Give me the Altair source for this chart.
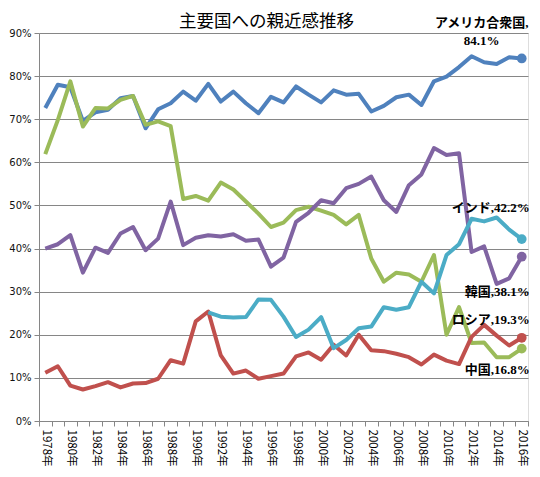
import altair as alt
import pandas as pd

years = list(range(1978, 2017))

usa = [72.6, 78.0, 77.4, 69.6, 71.6, 72.2, 74.9, 75.4, 67.9, 72.3,
       73.7, 76.4, 74.3, 78.2, 74.1, 76.4, 73.7, 71.4, 75.2, 73.9,
       77.6, 75.7, 73.9, 76.7, 75.7, 75.9, 71.8, 73.1, 75.1, 75.7,
       73.3, 78.8, 79.9, 82.1, 84.6, 83.2, 82.8, 84.4, 84.1]
china = [61.9, 69.8, 78.8, 68.3, 72.6, 72.5, 74.5, 75.4, 68.7, 69.5,
         68.4, 51.5, 52.2, 51.1, 55.3, 53.7, 50.9, 48.1, 45.0, 46.0,
         48.9, 49.7, 48.8, 47.8, 45.6, 47.8, 37.7, 32.3, 34.4, 34.0,
         32.3, 38.5, 20.0, 26.4, 18.1, 18.2, 14.8, 14.8, 16.8]
korea = [40.0, 41.0, 43.1, 34.4, 40.2, 39.0, 43.5, 45.0, 39.6, 42.3,
         50.9, 40.8, 42.5, 43.1, 42.8, 43.3, 41.8, 42.1, 35.8, 37.9,
         46.2, 48.3, 51.2, 50.5, 54.0, 55.0, 56.7, 51.2, 48.5, 54.7,
         57.2, 63.3, 61.7, 62.1, 39.2, 40.5, 31.8, 33.1, 38.1]
russia = [11.2, 12.7, 8.2, 7.3, 8.1, 9.0, 7.8, 8.7, 8.8, 9.8,
          14.1, 13.3, 23.1, 25.4, 15.2, 11.0, 11.7, 9.8, 10.4, 11.0,
          15.0, 15.9, 14.2, 17.7, 15.2, 20.0, 16.4, 16.2, 15.6, 14.8,
          13.1, 15.4, 14.0, 13.2, 19.5, 22.3, 19.8, 17.5, 19.3]
india_years = list(range(1991, 2017))
india = [25.2, 24.2, 24.0, 24.1, 28.2, 28.1, 24.2,
         19.5, 21.2, 24.1, 16.9, 18.8, 21.5, 21.9, 26.4, 25.8, 26.4,
         32.3, 29.6, 38.5, 41.0, 46.9, 46.3, 47.2, 44.4, 42.2]

series_names = ["アメリカ合衆国", "中国", "韓国", "ロシア", "インド"]
series_colors = ["#4F81BD", "#9BBB59", "#8064A2", "#C0504D", "#4BACC6"]

rows = []
for name, vals, yrs in [("アメリカ合衆国", usa, years), ("中国", china, years),
                        ("韓国", korea, years), ("ロシア", russia, years),
                        ("インド", india, india_years)]:
    for y, v in zip(yrs, vals):
        rows.append({"year": y, "value": v, "country": name})
df = pd.DataFrame(rows)
last = df[df["year"] == 2016].copy()
last["label"] = last["country"] + "," + last["value"].map(lambda v: f"{v:.1f}%")
last.loc[last["country"] == "アメリカ合衆国", "label"] = "アメリカ合衆国,\n84.1%"

grid_gray = "#868686"

x_enc = alt.X(
    "year:O",
    scale=alt.Scale(type="band", paddingInner=0, paddingOuter=0),
    bandPosition=0.5,
    axis=alt.Axis(
        title=None, labelAngle=90, labelAlign="left", labelBaseline="middle",
        labelExpr="datum.value % 2 == 0 ? datum.value + '年' : ''",
        labelOverlap=False, tickBand="extent", grid=False,
        domainColor=grid_gray, tickColor=grid_gray, tickSize=5,
        labelFont="Noto Sans CJK JP", labelFontSize=11.5, labelColor="#000",
        labelPadding=3,
    ),
)
y_enc = alt.Y(
    "value:Q",
    scale=alt.Scale(domain=[0, 90], nice=False),
    axis=alt.Axis(
        title=None, values=[0, 10, 20, 30, 40, 50, 60, 70, 80, 90],
        labelExpr="datum.value + '%'", gridColor=grid_gray, domainColor=grid_gray,
        tickColor=grid_gray, tickSize=5, labelFont="DejaVu Sans", labelFontSize=10,
        labelColor="#111", labelPadding=3,
    ),
)
color_enc = alt.Color("country:N", scale=alt.Scale(domain=series_names, range=series_colors), legend=None)

base = alt.Chart(df)
lines = base.mark_line(strokeWidth=4, strokeJoin="round").encode(x=x_enc, y=y_enc, color=color_enc, detail="country:N")
points = alt.Chart(last).mark_circle(size=95, opacity=1).encode(x=x_enc, y=y_enc, color=color_enc)

label_font = "Liberation Serif, 'Noto Sans CJK JP'"
offsets = {
    "アメリカ合衆国": (-40, -35, "center"),
    "インド": (8, -31, "right"),
    "韓国": (8, 35, "right"),
    "ロシア": (8, -18, "right"),
    "中国": (8, 21, "right"),
}
texts = []
for name, (dx, dy, al) in offsets.items():
    t = alt.Chart(last[last["country"] == name]).mark_text(
        font=label_font, fontSize=13, fontWeight="bold", color="#000",
        align=al, baseline="middle", dx=dx, dy=dy, lineBreak="\n", lineHeight=18,
    ).encode(x=x_enc, y=y_enc, text="label:N")
    texts.append(t)

chart = alt.layer(lines, points, *texts).properties(
    width=489, height=388,
    title=alt.TitleParams("主要国への親近感推移", font="Noto Sans CJK JP", fontSize=17.5,
                          fontWeight="normal", color="#000", anchor="middle", dx=-17,
                          offset=-13, frame="group"),
    autosize=alt.AutoSizeParams(type="none"),
    padding={"left": 31, "top": 25, "right": 4, "bottom": 48},
).configure_view(stroke=None).configure(background="white")

chart.save("out.html", embed_options={"renderer": "svg", "actions": False})
